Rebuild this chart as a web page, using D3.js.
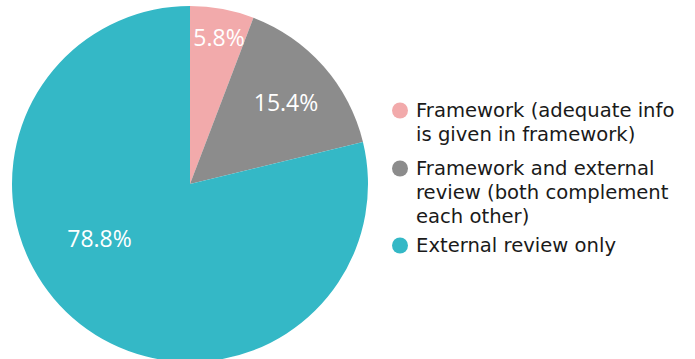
<!DOCTYPE html>
<html>
<head>
<meta charset="utf-8">
<script src="https://cdn.jsdelivr.net/npm/d3@7"></script>
<style>
  html, body { margin: 0; padding: 0; background: #fff; }
  svg { display: block; }
</style>
</head>
<body>
<svg id="chart" width="695" height="359"></svg>
<script>
const categories = [
  ["Framework (adequate info", "is given in framework)"],
  ["Framework and external", "review (both complement", "each other)"],
  ["External review only"]
];
const values = [5.8, 15.4, 78.8];
const colors = ["#F2AAAB", "#8C8C8C", "#34B8C6"];
const labels = ["5.8%", "15.4%", "78.8%"];

const svg = d3.select("#chart");
const cx = 190, cy = 184, r = 178;

const pie = d3.pie().sort(null).value(d => d);
const arcs = pie(values);
const arc = d3.arc().innerRadius(0).outerRadius(r);

const g = svg.append("g").attr("transform", `translate(${cx},${cy})`);
g.selectAll("path.slice")
  .data(arcs)
  .join("path")
  .attr("class", "slice")
  .attr("d", arc)
  .attr("fill", (d, i) => colors[i]);

// percentage labels inside slices (x centre, baseline)
const labelPos = [[29, -138], [96, -73], [-90.5, 63]];
g.selectAll("text.pct")
  .data(arcs)
  .join("text")
  .attr("class", "pct")
  .attr("x", (d, i) => labelPos[i][0])
  .attr("y", (d, i) => labelPos[i][1])
  .attr("text-anchor", "middle")
  .attr("fill", "#fff")
  .attr("font-family", "'Open Sans', sans-serif")
  .attr("font-size", 23)
  .text((d, i) => labels[i]);

// legend
const legendX = 400;
const lineH = 24;
const baselines = [117, 175, 252];
const legend = svg.append("g");
categories.forEach((lines, i) => {
  const item = legend.append("g");
  item.append("circle")
    .attr("cx", legendX)
    .attr("cy", baselines[i] - 6.5)
    .attr("r", 8)
    .attr("fill", colors[i]);
  lines.forEach((t, j) => {
    item.append("text")
      .attr("x", legendX + 16)
      .attr("y", baselines[i] + j * lineH)
      .attr("font-family", "'DejaVu Sans', Verdana, sans-serif")
      .attr("font-size", 19.6)
      .attr("fill", "#1a1a1a")
      .text(t);
  });
});
</script>
</body>
</html>
